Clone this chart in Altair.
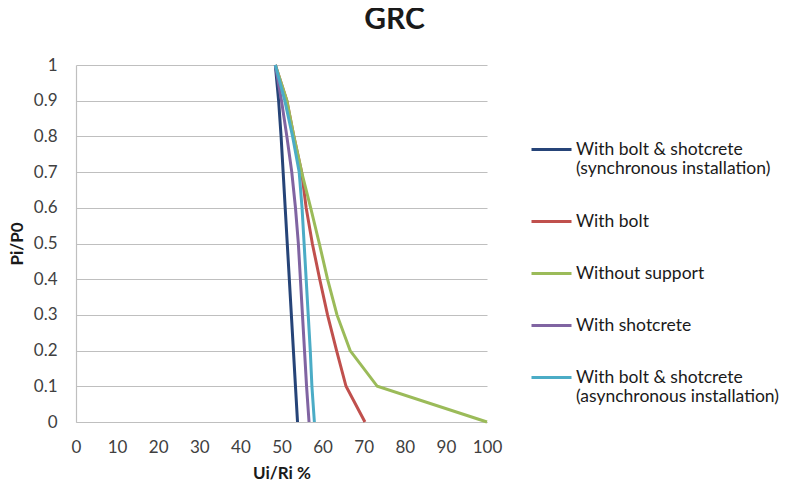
import altair as alt
import pandas as pd

pi_p0 = [1.0, 0.9, 0.8, 0.7, 0.6, 0.5, 0.4, 0.3, 0.2, 0.1, 0.0]

series_names = [
    "With bolt & shotcrete (synchronous installation)",
    "With bolt",
    "Without support",
    "With shotcrete",
    "With bolt & shotcrete (asynchronous installation)",
]
series_colors = ["#264478", "#C0504D", "#9BBB59", "#8064A2", "#4BACC6"]

bolt_shot_sync = [48.5, 49.3, 49.9, 50.4, 50.9, 51.4, 51.9, 52.4, 52.9, 53.4, 53.9]
bolt = [48.5, 51.3, 53.0, 54.9, 56.0, 57.5, 59.3, 61.2, 63.4, 65.7, 70.3]
no_support = [48.5, 51.3, 53.0, 54.9, 57.1, 59.2, 61.2, 63.5, 66.7, 73.3, 100.0]
shotcrete = [48.5, 50.0, 51.3, 52.5, 53.4, 54.1, 54.6, 55.1, 55.6, 56.1, 56.7]
bolt_shot_async = [48.5, 50.8, 52.7, 54.3, 55.0, 55.5, 56.0, 56.5, 57.0, 57.4, 58.0]

x_ticks = [0, 10, 20, 30, 40, 50, 60, 70, 80, 90, 100]
y_ticks = [0, 0.1, 0.2, 0.3, 0.4, 0.5, 0.6, 0.7, 0.8, 0.9, 1.0]

all_series = [bolt_shot_sync, bolt, no_support, shotcrete, bolt_shot_async]
rows = []
for s, (name, xs) in enumerate(zip(series_names, all_series)):
    for i, (xv, yv) in enumerate(zip(xs, pi_p0)):
        rows.append({"series": name, "s": s, "idx": i, "ui": xv, "pi": yv})
df = pd.DataFrame(rows)

FONT = "Lato"

chart = (
    alt.Chart(df)
    .mark_line(strokeWidth=3)
    .encode(
        x=alt.X(
            "ui:Q",
            scale=alt.Scale(domain=[0, 100], nice=False),
            axis=alt.Axis(
                values=x_ticks,
                format="d",
                title="Ui/Ri %",
                grid=False,
                ticks=False,
                labelFlush=False,
                labelPadding=17,
                titlePadding=10,
            ),
        ),
        y=alt.Y(
            "pi:Q",
            scale=alt.Scale(domain=[0, 1], nice=False),
            axis=alt.Axis(
                values=y_ticks,
                format=".1~f",
                title="Pi/P0",
                grid=True,
                ticks=False,
                labelFlush=False,
                labelPadding=19,
                titlePadding=7,
            ),
        ),
        color=alt.Color(
            "series:N",
            scale=alt.Scale(domain=series_names, range=series_colors),
            legend=alt.Legend(
                title=None,
                orient="none",
                legendX=454,
                legendY=63,
                symbolType="stroke",
                symbolSize=1600,
                symbolStrokeWidth=3,
                labelFont=FONT,
                labelFontSize=17.5,
                labelColor="#1a1a1a",
                labelExpr="split(replace(datum.label, ' (', '|('), '|')",
                labelLimit=320,
                labelOffset=3,
                rowPadding=22,
            ),
        ),
        detail="s:O",
        order=alt.Order("idx:Q"),
    )
    .properties(
        width=411,
        height=357,
        autosize=alt.AutoSizeParams(type="none"),
        padding={"left": 68, "top": 57, "right": 295, "bottom": 60},
        title=alt.TitleParams(
            "GRC",
            font=FONT,
            fontSize=30,
            fontWeight="bold",
            color="#1a1a1a",
            anchor="middle",
            frame="group",
            dx=113,
            offset=21,
        ),
    )
    .configure_axis(
        labelFont=FONT,
        labelFontSize=17,
        labelColor="#404040",
        titleFont=FONT,
        titleFontSize=17,
        titleFontWeight="bold",
        titleColor="#1a1a1a",
        gridColor="#BFBFBF",
        gridWidth=1.2,
        domainColor="#BFBFBF",
        domainWidth=1.2,
    )
    .configure_view(stroke=None)
)

chart.save("out.html", embed_options={"renderer": "svg", "actions": False})
